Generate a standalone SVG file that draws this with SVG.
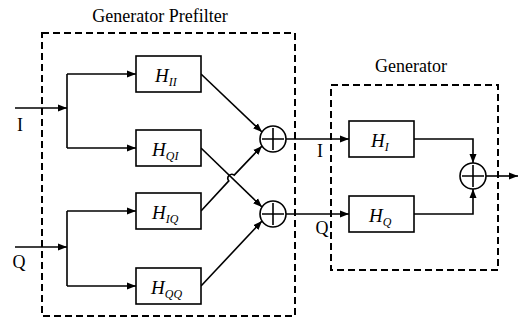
<svg xmlns="http://www.w3.org/2000/svg" width="519" height="328" viewBox="0 0 519 328">
<style>
.box{fill:#fff;stroke:#000;stroke-width:1.6}
.dash{fill:none;stroke:#000;stroke-width:2;stroke-dasharray:7 4}
.ln{fill:none;stroke:#000;stroke-width:1.6}
.sum{fill:#fff;stroke:#000;stroke-width:1.6}
.t{font-family:"Liberation Serif","Times New Roman",serif;fill:#000}
.h{font-family:"Liberation Serif","Times New Roman",serif;font-style:italic;fill:#000;font-size:19px}
.s{font-size:12px}
</style>
<defs>
<marker id="ar" markerUnits="userSpaceOnUse" markerWidth="10" markerHeight="8" refX="9" refY="4" orient="auto">
<path d="M0,0.5 L9,4 L0,7.5 Z" fill="#000"/>
</marker>
</defs>
<rect id="prefilter" class="dash" x="42" y="33" width="253" height="283"/>
<rect id="generator" class="dash" x="331" y="85" width="167" height="185"/>
<text class="t" x="160" y="22" font-size="18" text-anchor="middle">Generator Prefilter</text>
<text class="t" x="411" y="72" font-size="18" text-anchor="middle">Generator</text>
<g id="connectors">
<path class="ln" d="M15,108 H67" marker-end="url(#ar)"/>
<path class="ln" d="M67,74 V148"/>
<path class="ln" d="M67,74 H136" marker-end="url(#ar)"/>
<path class="ln" d="M67,148 H136" marker-end="url(#ar)"/>
<path class="ln" d="M15,247 H67" marker-end="url(#ar)"/>
<path class="ln" d="M67,211 V286"/>
<path class="ln" d="M67,211 H136" marker-end="url(#ar)"/>
<path class="ln" d="M67,286 H136" marker-end="url(#ar)"/>
<path class="ln" d="M201,74 L262,132" marker-end="url(#ar)"/>
<path class="ln" d="M201,148 L262,207" marker-end="url(#ar)"/>
<path class="ln" d="M201,211 L228.8,180.9 A4,4 0 0 1 234.2,175.1 L262,146" marker-end="url(#ar)"/>
<path class="ln" d="M201,286 L262,221" marker-end="url(#ar)"/>
<path class="ln" d="M286,139 H349" marker-end="url(#ar)"/>
<path class="ln" d="M286,214 H349" marker-end="url(#ar)"/>
<path class="ln" d="M414,139 H473 V163" marker-end="url(#ar)"/>
<path class="ln" d="M414,214 H473 V189" marker-end="url(#ar)"/>
<path class="ln" d="M486,176 H518" marker-end="url(#ar)"/>
</g>
<text class="t" x="20" y="131" font-size="18" text-anchor="middle">I</text>
<text class="t" x="19" y="268" font-size="18" text-anchor="middle">Q</text>
<text class="t" x="320" y="157" font-size="18" text-anchor="middle">I</text>
<text class="t" x="322" y="234" font-size="18" text-anchor="middle">Q</text>
<g id="HII"><rect class="box" x="136" y="56" width="65" height="36"/><text class="h" x="155" y="82">H<tspan class="s" dy="4">II</tspan></text></g>
<g id="HQI"><rect class="box" x="136" y="130" width="65" height="36"/><text class="h" x="152" y="156">H<tspan class="s" dy="4">QI</tspan></text></g>
<g id="HIQ"><rect class="box" x="136" y="193" width="65" height="36"/><text class="h" x="152" y="219">H<tspan class="s" dy="4">IQ</tspan></text></g>
<g id="HQQ"><rect class="box" x="136" y="268" width="65" height="36"/><text class="h" x="151" y="294">H<tspan class="s" dy="4">QQ</tspan></text></g>
<g id="HI"><rect class="box" x="349" y="121" width="65" height="36"/><text class="h" x="371" y="147">H<tspan class="s" dy="4">I</tspan></text></g>
<g id="HQ"><rect class="box" x="349" y="196" width="65" height="36"/><text class="h" x="369" y="222">H<tspan class="s" dy="4">Q</tspan></text></g>
<g id="sum1"><circle class="sum" cx="273" cy="139" r="13"/><path class="ln" d="M262,139 H284 M273,128 V150"/></g>
<g id="sum2"><circle class="sum" cx="273" cy="214" r="13"/><path class="ln" d="M262,214 H284 M273,203 V225"/></g>
<g id="sum3"><circle class="sum" cx="473" cy="176" r="13"/><path class="ln" d="M462,176 H484 M473,165 V187"/></g>
</svg>
